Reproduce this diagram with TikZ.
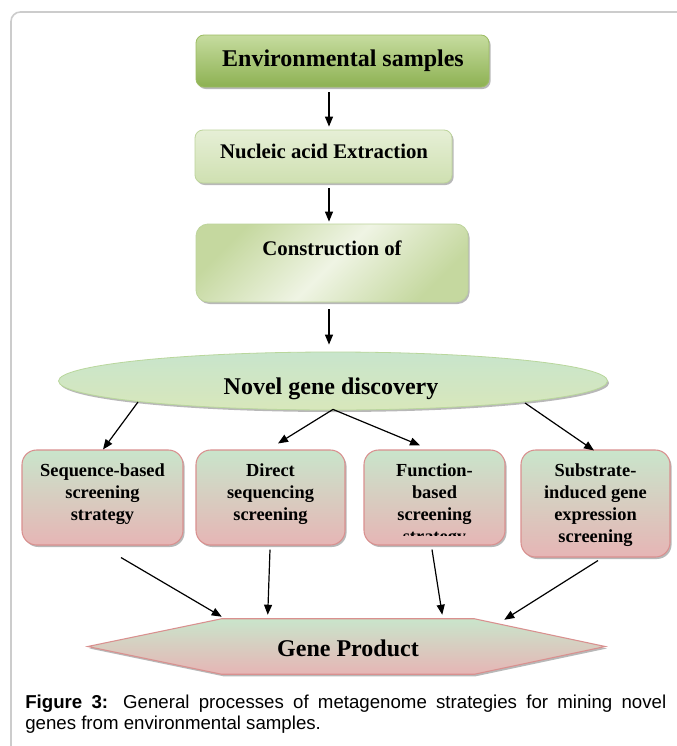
\documentclass[tikz,border=0pt]{standalone}
\usepackage{fontspec}
\setmainfont{Liberation Serif}
\newfontfamily\capfont{Liberation Sans}
\usetikzlibrary{shadows,calc,arrows.meta,shapes.geometric}
\definecolor{framec}{HTML}{CCCCCC}
\definecolor{envtop}{HTML}{C6DC9F}
\definecolor{envbot}{HTML}{8DB152}
\definecolor{envdraw}{HTML}{9CBC62}
\definecolor{nuctop}{HTML}{E6EFD6}
\definecolor{nucbot}{HTML}{CFE0B1}
\definecolor{nucdraw}{HTML}{BDD49B}
\definecolor{congreen}{HTML}{C5D89F}
\definecolor{conlight}{HTML}{EFF4E4}
\definecolor{novtop}{HTML}{C8E5CC}
\definecolor{novbot}{HTML}{D8E7BB}
\definecolor{novdraw}{HTML}{B9D79C}
\definecolor{pinktop}{HTML}{C9E5CB}
\definecolor{pinkbot}{HTML}{E6B5B5}
\definecolor{pinkdraw}{HTML}{D9908F}
\begin{document}
\begin{tikzpicture}[x=0.75pt,y=-0.75pt,
  shad/.style={general shadow={shadow xshift=1.2pt,shadow yshift=-1.5pt,fill=black,opacity=0.28}},
  greenbox/.style={shad,rectangle,rounded corners=6pt,draw=envdraw,line width=0.6pt,top color=envtop,bottom color=envbot,inner sep=0pt},
  lightbox/.style={shad,rectangle,rounded corners=6pt,draw=nucdraw,line width=0.6pt,top color=nuctop,bottom color=nucbot,inner sep=0pt},
  conbox/.style={shad,rectangle,rounded corners=9pt,draw=nucdraw,line width=0.6pt,top color=congreen,bottom color=congreen,middle color=conlight,shading angle=45,inner sep=0pt},
  novel/.style={shad,ellipse,draw=novdraw,line width=0.6pt,top color=novtop,bottom color=novbot,inner sep=0pt},
  pinkbox/.style={shad,rectangle,rounded corners=11pt,draw=pinkdraw,line width=0.8pt,top color=pinktop,bottom color=pinkbot,inner sep=0pt,minimum height=71.25pt},
  pinkhex/.style={shad,draw=pinkdraw,line width=0.8pt,top color=pinktop,bottom color=pinkbot},
  big/.style={inner sep=0pt,anchor=base,font=\fontsize{18}{20}\selectfont\bfseries},
  mid/.style={inner sep=0pt,anchor=base,font=\fontsize{15.6}{18}\selectfont\bfseries},
  btxt/.style={inner sep=0pt,anchor=north,align=center,font=\fontsize{13.8}{16.5}\selectfont\bfseries},
  arr/.style={line width=0.9pt,-{Triangle[length=7.5pt,width=6pt]}}
]
\useasboundingbox (0,0) rectangle (677,746);
\clip (0,0) rectangle (677,746);
\fill[white] (0,0) rectangle (677,746);
\draw[framec,line width=1.2pt,rounded corners=7pt] (11,12) rectangle (730,800);

% top chain
\node[greenbox,minimum width=219.75pt,minimum height=39pt] (env) at (342.5,61) {};
\node[big] (envt) at (343,66) {Environmental samples};
\node[lightbox,minimum width=192.75pt,minimum height=39.75pt] (nuc) at (323.5,156.5) {};
\node[mid] (nuct) at (324,158) {Nucleic acid Extraction};
\node[conbox,minimum width=204pt,minimum height=58.5pt] (con) at (332,263) {};
\node[mid] (cont) at (332,255) {Construction of};
\node[novel,minimum width=411.75pt,minimum height=43.5pt] (nov) at (333,381) {};
\node[big] (novt) at (331,394) {Novel gene discovery};

% strategy boxes
\node[pinkbox,minimum width=120.75pt] (b1) at (102.5,497.5) {};
\node[pinkbox,minimum width=111.75pt] (b2) at (270.5,497.5) {};
\node[pinkbox,minimum width=105.75pt] (b3) at (434.5,497.5) {};
\node[pinkbox,minimum width=111.75pt,minimum height=80.25pt] (b4) at (595.5,503.5) {};
\node[btxt] (b1t) at (102.5,463) {Sequence-based\\screening\\strategy};
\node[btxt] (b2t) at (270.5,463) {Direct\\sequencing\\screening};
\begin{scope}
  \clip (364,450) rectangle (505,535);
  \node[btxt] (b3t) at (434.5,463) {Function-\\based\\screening\\strategy};
\end{scope}
\node[btxt] (b4t) at (595.5,463) {Substrate-\\induced gene\\expression\\screening};

% gene product hexagon
\node[inner sep=0pt,minimum width=189pt,minimum height=41.25pt] (gp) at (348,646.5) {};
\path[pinkhex] (gp.north west) -- (gp.north east) -- ($(gp.east)+(131,0)$) -- (gp.south east)
  -- (gp.south west) -- ($(gp.west)+(-134,0)$) -- cycle;
\node[big] (gpt) at (348,656) {Gene Product};

% connectors
\draw[arr] ($(env.south)+(-13.5,5)$) -- ($(nuc.north)+(5.5,-3)$);
\draw[arr] ($(nuc.south)+(5.5,5)$) -- ($(con.north)+(-3,-2)$);
\draw[arr] ($(con.south)+(-3,7)$) -- ($(nov.north)+(-4,-7)$);
\draw[arr] ($(nov.center)+(-195,21)$) -- ($(b1.north)+(0.5,0)$);
\draw[arr] ($(nov.south)+(0,-1)$) -- ($(b2.north)+(7.5,-6)$);
\draw[arr] ($(nov.south)+(0,-1)$) -- ($(b3.north)+(-14.5,-4)$);
\draw[arr] ($(nov.center)+(192,22)$) -- ($(b4.north)+(-1.5,1)$);
\draw[arr] ($(b1.south)+(18.5,12)$) -- ($(gp.north west)+(0,-2)$);
\draw[arr] ($(b2.south)+(-0.5,4)$) -- ($(gp.north west)+(46,-4)$);
\draw[arr] ($(b3.south)+(-2.5,4)$) -- ($(gp.north east)+(-32,-4)$);
\draw[arr] ($(b4.south)+(2.5,3)$) -- ($(gp.north east)+(30,1)$);

% caption
\node[anchor=north west,inner sep=0pt,text width=480.75pt,align=justify,
      font=\capfont\fontsize{14}{15.5}\selectfont] (cap) at (25,695)
  {\textbf{Figure 3:} General processes of metagenome strategies for mining novel\linebreak genes from environmental samples.};
\end{tikzpicture}
\end{document}
